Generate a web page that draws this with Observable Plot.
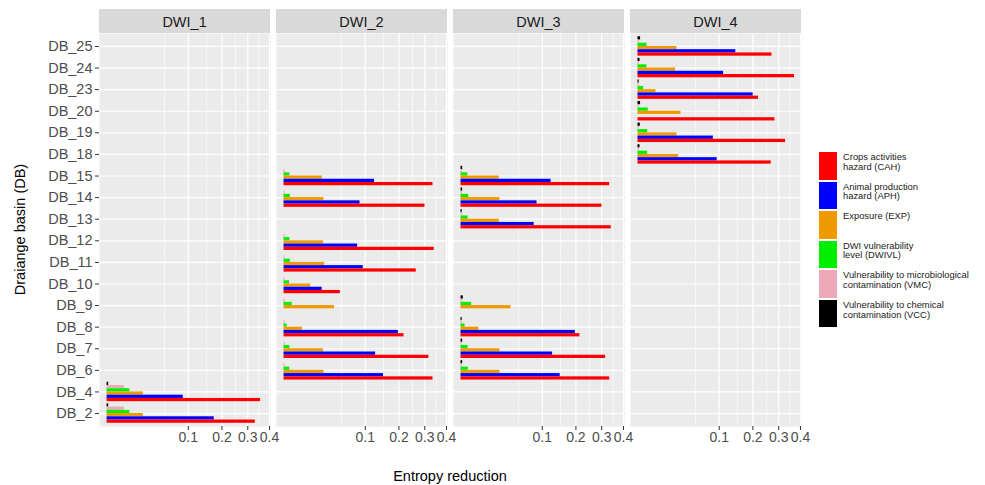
<!DOCTYPE html>
<html>
<head>
<meta charset="utf-8">
<script src="https://cdn.jsdelivr.net/npm/d3@7"></script>
<script src="https://cdn.jsdelivr.net/npm/@observablehq/plot@0.6"></script>
<style>
  html, body { margin: 0; padding: 0; background: #ffffff; }
  #wrap { position: relative; width: 985px; height: 485px; font-family: "Liberation Sans", Arial, sans-serif; }
  #legend { position: absolute; left: 819px; top: 152px; }
  .item { display: flex; align-items: flex-start; height: 29.6px; }
  .key { width: 17.5px; height: 27.5px; flex: none; }
  .lab { margin-left: 6.5px; margin-top: 0px; font-size: 9.4px; line-height: 9.6px; color: #1a1a1a; white-space: nowrap; }
</style>
</head>
<body>
<div id="wrap"></div>
<script>
const n = null;

const facets = ["DWI_1", "DWI_2", "DWI_3", "DWI_4"];
const dbs = ["DB_25", "DB_24", "DB_23", "DB_20", "DB_19", "DB_18", "DB_15", "DB_14", "DB_13",
             "DB_12", "DB_11", "DB_10", "DB_9", "DB_8", "DB_7", "DB_6", "DB_4", "DB_2"];

// series, drawn top to bottom inside each basin
const seriesKeys = ["VCC", "VMC", "DWIVL", "EXP", "APH", "CAH"];
const seriesColors = ["#000000", "#EEA9B8", "#00EE00", "#EE9A00", "#0000FF", "#FF0000"];

// legend (top to bottom)
const legendKeys = ["CAH", "APH", "EXP", "DWIVL", "VMC", "VCC"];
const legendLabels = [
  ["Crops activities", "hazard (CAH)"],
  ["Animal production", "hazard (APH)"],
  ["Exposure (EXP)"],
  ["DWI vulnerability", "level (DWIVL)"],
  ["Vulnerability to microbiological", "contamination (VMC)"],
  ["Vulnerability to chemical", "contamination (VCC)"]
];

const xTicks = [0.1, 0.2, 0.3, 0.4];
const xMinor = [0.05, 0.15, 0.25, 0.35];

// values per facet (DWI_1..DWI_4), each in dbs order
const CAH = [
  [n,n,n,n,n,n, n,n,n,n,n,n, n,n,n,n, 0.357, 0.333],
  [n,n,n,n,n,n, 0.336,0.301,n,0.342,0.265,0.048, n,0.218,0.318,0.336, n,n],
  [n,n,n,n,n,n, 0.335,0.301,0.342,n,n,n, n,0.214,0.317,0.335, n,n],
  [0.272,0.371,0.220,0.284,0.330,0.269, n,n,n,n,n,n, n,n,n,n, n,n]
];
const APH = [
  [n,n,n,n,n,n, n,n,n,n,n,n, n,n,n,n, 0.088, 0.174],
  [n,n,n,n,n,n, 0.124,0.0875,n,0.082,0.095,0.022, n,0.198,0.127,0.150, n,n],
  [n,n,n,n,n,n, 0.123,0.0875,0.081,n,n,n, n,0.198,0.127,0.149, n,n],
  [0.145,0.111,0.201,n,0.086,0.095, n,n,n,n,n,n, n,n,n,n, n,n]
];
const EXP = [
  [n,n,n,n,n,n, n,n,n,n,n,n, n,n,n,n, 0.020, 0.020],
  [n,n,n,n,n,n, 0.0223,0.0242,n,0.0235,0.0251,0.0108, 0.0385,0.0051,0.0235,0.0242, n,n],
  [n,n,n,n,n,n, 0.0222,0.0230,0.0222,n,n,n, 0.0379,0.0049,0.0230,0.0230, n,n],
  [0.0230,0.0214,0.0049,0.0280,0.0230,0.0250, n,n,n,n,n,n, n,n,n,n, n,n]
];
const DWIVL = [
  [n,n,n,n,n,n, n,n,n,n,n,n, n,n,n,n, 0.0078, 0.0078],
  [n,n,n,n,n,n, 0.0005,0.0006,n,0.0005,0.0006,0.00044, 0.001,0.00014,0.0005,0.0005, n,n],
  [n,n,n,n,n,n, 0.0007,0.0009,0.00075,n,n,n, 0.0017,0.00024,0.00075,0.0008, n,n],
  [0.0012,0.0012,0.00047,0.0016,0.0014,0.0014, n,n,n,n,n,n, n,n,n,n, n,n]
];
const VMC = [
  [n,n,n,n,n,n, n,n,n,n,n,n, n,n,n,n, 0.0045, 0.0045],
  [n,n,n,n,n,n, 0.00002,0.00002,n,0.00002,0.00002,0.00002, 0.00002,0.00002,0.00002,0.00002, n,n],
  [n,n,n,n,n,n, 0.00002,0.00002,0.00002,n,n,n, 0.00002,0.00002,0.00002,0.00002, n,n],
  [0.00002,0.00002,0.00002,0.00002,0.00002,0.00002, n,n,n,n,n,n, n,n,n,n, n,n]
];
const VCC = [
  [n,n,n,n,n,n, n,n,n,n,n,n, n,n,n,n, 0.00004, 0.00004],
  [n,n,n,n,n,n, n,n,n,n,n,n, n,n,n,n, n,n],
  [n,n,n,n,n,n, 0.00004,0.00004,0.00002,n,n,n, 0.00008,0.00002,0.00004,0.00004, n,n],
  [0.0001,0.00006,0.00002,0.0001,0.00008,0.00006, n,n,n,n,n,n, n,n,n,n, n,n]
];
const seriesValues = {CAH, APH, EXP, DWIVL, VMC, VCC};

// tidy rows
const rows = [];
for (const s of seriesKeys) {
  seriesValues[s].forEach((arr, fi) => {
    arr.forEach((v, di) => {
      if (v != null) rows.push({facet: facets[fi], db: dbs[di], series: s, value: v});
    });
  });
}

// layout
const W = 985, H = 485;
const mLeft = 99, mRight = 184, mTop = 33, mBottom = 59;
const yInset = 2.16;
const frameH = H - mTop - mBottom;
const bw = (frameH - 2 * yInset) / dbs.length;
const groupPad = 0.05 * bw;
const barH = 0.9 * bw / seriesKeys.length;

const font = "'Liberation Sans', Arial, sans-serif";

const barMarks = seriesKeys.map((s, i) => Plot.barX(rows.filter(r => r.series === s), {
  fx: "facet",
  y: "db",
  x1: () => 0,
  x2: "value",
  fill: seriesColors[i],
  insetTop: groupPad + i * barH,
  insetBottom: bw - groupPad - (i + 1) * barH
}));

const plot = Plot.plot({
  width: W,
  height: H,
  marginLeft: mLeft,
  marginRight: mRight,
  marginTop: mTop,
  marginBottom: mBottom,
  style: {fontFamily: font, background: "transparent", overflow: "visible"},
  fx: {domain: facets, paddingInner: 0.0333, paddingOuter: 0, round: false, axis: null, label: null},
  x: {type: "sqrt", domain: [-0.00087, 0.4051], axis: null, label: null},
  y: {type: "band", domain: dbs, padding: 0, insetTop: yInset, insetBottom: yInset, round: false, axis: null, label: null},
  marks: [
    Plot.frame({fill: "#EBEBEB", stroke: "none"}),
    Plot.gridX(xMinor, {stroke: "#ffffff", strokeOpacity: 1, strokeWidth: 0.6}),
    Plot.gridX(xTicks, {stroke: "#ffffff", strokeOpacity: 1, strokeWidth: 1.2}),
    Plot.gridY({stroke: "#ffffff", strokeOpacity: 1, strokeWidth: 1.2}),
    ...barMarks,
    Plot.axisX(xTicks, {tickSize: 4, tickPadding: 2, fontSize: 14, color: "#4D4D4D", stroke: "#333333", label: null, tickFormat: d => String(d)}),
    Plot.axisY({tickSize: 4, tickPadding: 3, fontSize: 14.5, color: "#4D4D4D", stroke: "#333333", label: null})
  ]
});

const wrap = document.getElementById("wrap");
wrap.appendChild(plot);

// facet strips, from the fx scale
const fxs = plot.scale("fx");
const fxBand = d3.scaleBand()
  .domain(fxs.domain)
  .range(fxs.range)
  .paddingInner(fxs.paddingInner ?? 0.0333)
  .paddingOuter(fxs.paddingOuter ?? 0)
  .align(fxs.align ?? 0.5);
const svg = d3.select(plot);
const strips = svg.append("g");
for (const f of facets) {
  strips.append("rect")
    .attr("x", fxBand(f)).attr("y", 9)
    .attr("width", fxBand.bandwidth()).attr("height", mTop - 9)
    .attr("fill", "#D9D9D9");
  strips.append("text")
    .attr("x", fxBand(f) + fxBand.bandwidth() / 2).attr("y", 21.5)
    .attr("text-anchor", "middle").attr("dominant-baseline", "central")
    .attr("font-size", 14.5).attr("fill", "#1A1A1A").attr("font-family", font)
    .text(f);
}

// axis titles
const [fx0, fx1] = fxs.range;
svg.append("text")
  .attr("x", (fx0 + fx1) / 2).attr("y", 476)
  .attr("text-anchor", "middle").attr("dominant-baseline", "central")
  .attr("font-size", 14.5).attr("fill", "#000000").attr("font-family", font)
  .text("Entropy reduction");
svg.append("text")
  .attr("transform", `translate(20,${mTop + frameH / 2}) rotate(-90)`)
  .attr("text-anchor", "middle").attr("dominant-baseline", "central")
  .attr("font-size", 14.5).attr("fill", "#000000").attr("font-family", font)
  .text("Draiange basin (DB)");

// legend
const legend = document.createElement("div");
legend.id = "legend";
legendKeys.forEach((k, i) => {
  const item = document.createElement("div");
  item.className = "item";
  const key = document.createElement("div");
  key.className = "key";
  key.style.background = seriesColors[seriesKeys.indexOf(k)];
  const lab = document.createElement("div");
  lab.className = "lab";
  lab.innerHTML = legendLabels[i].map(t => t.replace(/&/g, "&amp;")).join("<br>");
  item.appendChild(key);
  item.appendChild(lab);
  legend.appendChild(item);
});
wrap.appendChild(legend);
</script>
</body>
</html>
